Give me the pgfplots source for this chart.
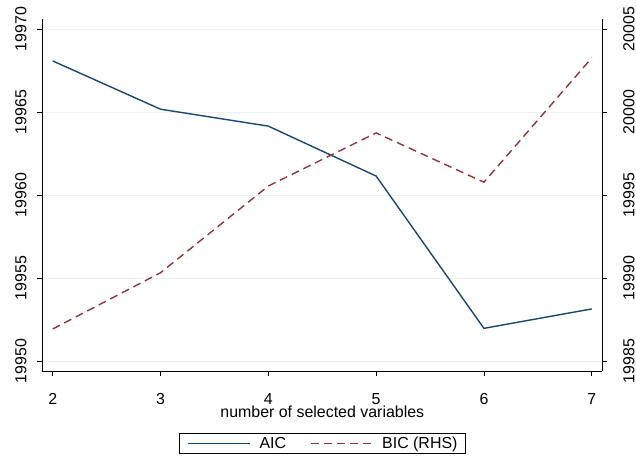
\documentclass[border=0pt]{standalone}
\usepackage{pgfplots}
\pgfplotsset{compat=1.18}
\usepackage{fontspec}
\setmainfont{Liberation Sans}

\definecolor{aicblue}{HTML}{1A476F}
\definecolor{bicred}{HTML}{90353B}
\definecolor{gridc}{HTML}{EAF2F3}

\begin{document}
\begin{tikzpicture}
\useasboundingbox (-42.3bp,-85.7bp) rectangle (593.7bp,371.3bp);
\pgfplotsset{
  every axis/.append style={
    scale only axis, width=560bp, height=352bp,
    xmin=1.9035, xmax=7.098,
    scaled x ticks=false, scaled y ticks=false,
    tick align=outside, major tick length=5bp,
    tick style={black, line width=0.8bp},
    axis line style={black, line width=0.8bp},
    font=\fontsize{16}{19}\selectfont,
    /pgf/number format/assume math mode=true,
    /pgf/number format/fixed,
    /pgf/number format/precision=0,
    /pgf/number format/set thousands separator={},
  },
}

% Left axis: AIC
\begin{axis}[
  axis x line*=bottom, axis y line*=left,
  ymin=19949.38, ymax=19970.60,
  xtick={2,3,4,5,6,7},
  ytick={19950,19955,19960,19965,19970},
  ymajorgrids, grid style={gridc, line width=0.8bp},
  xticklabel style={anchor=base, inner sep=0pt, yshift=-28bp},
  yticklabel style={xshift=-10.8bp, rotate=90, anchor=base, inner sep=0pt},
  xlabel={number of selected variables},
  xlabel style={at={(axis description cs:0.5,-0.131)}, anchor=base, inner sep=0pt},
]
\addplot[aicblue, line width=1.4bp] coordinates {
  (2,19968.09) (3,19965.18) (4,19964.16) (5,19961.15) (6,19951.97) (7,19953.14)
};
\end{axis}

% Right axis: BIC
\begin{axis}[
  hide x axis, axis y line*=right,
  ymin=19984.38, ymax=20005.60,
  ytick={19985,19990,19995,20000,20005},
  yticklabel style={xshift=27bp, rotate=90, anchor=base, inner sep=0pt},
  legend columns=2,
  legend style={at={(0.5,-0.1753)}, anchor=north, draw=black, line width=0.6bp,
    inner xsep=8bp, inner ysep=3.5bp, font=\fontsize{16}{19}\selectfont,
    nodes={inner sep=0pt},
    /tikz/every odd column/.append style={column sep=9bp},
    /tikz/every even column/.append style={column sep=23.7bp}},
  legend image code/.code={\draw[#1] (0bp,0bp) -- (62bp,0bp);},
]
\addlegendimage{aicblue, line width=1.4bp}
\addlegendentry{AIC}
\addplot[bicred, line width=1.4bp, dash pattern=on 8bp off 5bp] coordinates {
  (2,19986.93) (3,19990.32) (4,19995.55) (5,19998.75) (6,19995.78) (7,20003.27)
};
\addlegendentry{BIC (RHS)}
\end{axis}
\end{tikzpicture}
\end{document}
